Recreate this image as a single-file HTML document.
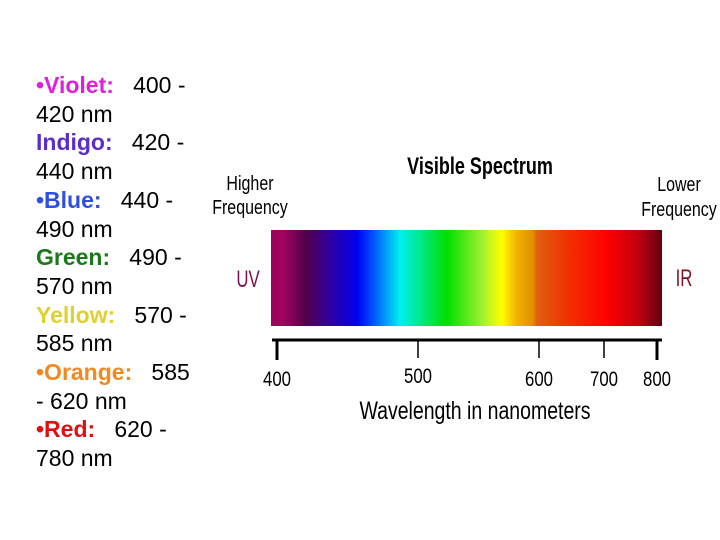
<!DOCTYPE html>
<html><head><meta charset="utf-8">
<style>
html,body{margin:0;padding:0;background:#fff;}
#wrap{position:relative;width:720px;height:540px;overflow:hidden;font-family:"Liberation Sans",Arial,sans-serif;}
#list{position:absolute;left:36px;top:71px;font-size:23px;line-height:28.7px;color:#000;width:190px;white-space:nowrap;}
.b{font-weight:bold;}
svg text{font-family:"Liberation Sans",Arial,sans-serif;}
</style></head><body>
<div id="wrap">
<div id="list">
<div><span class="b" style="color:#e020e0">•Violet:</span>&nbsp;&nbsp; 400 -<br>420 nm</div>
<div><span class="b" style="color:#5a2ec8">Indigo:</span>&nbsp;&nbsp; 420 -<br>440 nm</div>
<div><span class="b" style="color:#2f4fe0">•Blue:</span>&nbsp;&nbsp; 440 -<br>490 nm</div>
<div><span class="b" style="color:#1a7a1a">Green:</span>&nbsp;&nbsp; 490 -<br>570 nm</div>
<div><span class="b" style="color:#e0d030">Yellow:</span>&nbsp;&nbsp; 570 -<br>585 nm</div>
<div><span class="b" style="color:#f08a20">•Orange:</span>&nbsp;&nbsp; 585<br>- 620 nm</div>
<div><span class="b" style="color:#e01010">•Red:</span>&nbsp;&nbsp; 620 -<br>780 nm</div>
</div>
<svg id="chart" width="720" height="540" style="position:absolute;left:0;top:0">
<defs>
<linearGradient id="spec" x1="0" x2="1" y1="0" y2="0">
<stop offset="0" stop-color="#a0005a"/>
<stop offset="0.03" stop-color="#a00560"/>
<stop offset="0.09" stop-color="#50004a"/>
<stop offset="0.15" stop-color="#3000a0"/>
<stop offset="0.22" stop-color="#0000f0"/>
<stop offset="0.26" stop-color="#0050ff"/>
<stop offset="0.33" stop-color="#00f0f0"/>
<stop offset="0.45" stop-color="#00e000"/>
<stop offset="0.54" stop-color="#a0f030"/>
<stop offset="0.59" stop-color="#ffff00"/>
<stop offset="0.63" stop-color="#f0b000"/>
<stop offset="0.67" stop-color="#e09000"/>
<stop offset="0.68" stop-color="#e06010"/>
<stop offset="0.76" stop-color="#f03000"/>
<stop offset="0.86" stop-color="#ff0000"/>
<stop offset="0.94" stop-color="#c00010"/>
<stop offset="1" stop-color="#600010"/>
</linearGradient>
</defs>
<text x="480" y="174" text-anchor="middle" font-size="24" font-weight="bold" transform="translate(480,0) scale(0.75,1) translate(-480,0)">Visible Spectrum</text>
<g transform="translate(250,0) scale(0.8,1) translate(-250,0)">
<text x="250" y="190" text-anchor="middle" font-size="20">Higher</text>
<text x="250" y="214" text-anchor="middle" font-size="20">Frequency</text>
</g>
<g transform="translate(679,0) scale(0.8,1) translate(-679,0)">
<text x="679" y="191" text-anchor="middle" font-size="20">Lower</text>
<text x="679" y="216" text-anchor="middle" font-size="20">Frequency</text>
</g>
<text x="248" y="287" text-anchor="middle" font-size="24" fill="#7a1050" transform="translate(248,0) scale(0.7,1) translate(-248,0)">UV</text>
<text x="684" y="286" text-anchor="middle" font-size="24" fill="#7a1020" transform="translate(684,0) scale(0.7,1) translate(-684,0)">IR</text>
<rect x="271" y="230" width="391" height="96" fill="url(#spec)"/>
<line x1="272" y1="340" x2="662" y2="340" stroke="#000" stroke-width="3"/>
<g id="ticks"></g>
<text x="475" y="419" text-anchor="middle" font-size="25" transform="translate(475,0) scale(0.78,1) translate(-475,0)">Wavelength in nanometers</text>
</svg>
</div>
<script>
const ticks = [400, 500, 600, 700, 800];
const tickX = [277, 418, 539, 604, 657]; // non-linear axis in image, measured
const tickLabelY = [386, 383, 386, 386, 386];
const g = document.getElementById('ticks');
const ns = 'http://www.w3.org/2000/svg';
ticks.forEach((t, i) => {
  const x = tickX[i];
  const l = document.createElementNS(ns, 'line');
  l.setAttribute('x1', x); l.setAttribute('x2', x);
  l.setAttribute('y1', 340); l.setAttribute('y2', (i===0||i===4)?360:358);
  l.setAttribute('stroke', '#000'); l.setAttribute('stroke-width', (i===0||i===4)?3:1.5);
  
  
  g.appendChild(l);
  const tx = document.createElementNS(ns, 'text');
  tx.setAttribute('x', x); tx.setAttribute('y', tickLabelY[i]);
  tx.setAttribute('text-anchor', 'middle'); tx.setAttribute('font-size', '21');
  tx.setAttribute('transform', `translate(${x},0) scale(0.8,1) translate(${-x},0)`);
  tx.textContent = t;
  
  
  g.appendChild(tx);
});
</script>
</body></html>
